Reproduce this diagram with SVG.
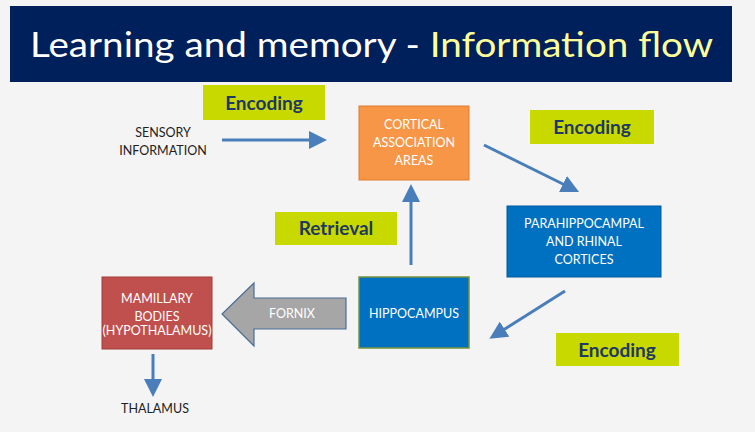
<svg xmlns="http://www.w3.org/2000/svg" width="755" height="432" viewBox="0 0 755 432">
<defs>
<style>
.t{font-family:Lato,"Open Sans",sans-serif}
.lab{fill:#c8d900}
.lt{font-family:Lato,sans-serif;font-weight:bold;font-size:19px;fill:#1f3864;text-anchor:middle}
.nt{font-family:Lato,sans-serif;font-size:12.5px;fill:#fff;text-anchor:middle}
.bt{font-family:Lato,sans-serif;font-size:12.5px;fill:#222;text-anchor:middle}
.c{stroke:#4a7ebb;stroke-width:3;fill:none;marker-end:url(#ah)}
</style>
<marker id="ah" markerWidth="6" markerHeight="6" refX="3" refY="3" orient="auto" markerUnits="strokeWidth" viewBox="0 0 6 6"><path d="M0,0L6,3L0,6z" fill="#4a7ebb"/></marker>
</defs>
<rect width="755" height="432" fill="#f4f4f4"/>
<g id="title">
<rect x="10" y="6" width="722" height="76" fill="#00205b"/>
<text x="30" y="57" class="t" font-size="35" fill="#fff" textLength="683" lengthAdjust="spacingAndGlyphs"><tspan>Learning and memory - </tspan><tspan fill="#ffff99">Information flow</tspan></text>
</g>
<g id="labels">
<rect class="lab" x="203" y="85" width="122" height="35"/><text class="lt" x="264" y="110">Encoding</text>
<rect class="lab" x="530" y="110" width="124" height="34"/><text class="lt" x="592" y="134">Encoding</text>
<rect class="lab" x="556" y="333" width="123" height="33"/><text class="lt" x="617" y="357">Encoding</text>
<rect class="lab" x="275" y="212" width="122" height="33"/><text class="lt" x="336" y="235">Retrieval</text>
</g>
<g id="sensory"><text class="bt" x="163" y="137">SENSORY</text><text class="bt" x="163" y="155">INFORMATION</text></g>
<g id="cortical"><rect x="359" y="106" width="110" height="74" fill="#f79646" stroke="#e07b2e"/>
<text class="nt" x="414" y="129">CORTICAL</text><text class="nt" x="414" y="147">ASSOCIATION</text><text class="nt" x="414" y="165">AREAS</text></g>
<g id="parahippocampal"><rect x="507" y="206" width="154" height="71" fill="#0070c0" stroke="#005a9e"/>
<text class="nt" x="584" y="228">PARAHIPPOCAMPAL</text><text class="nt" x="584" y="246">AND RHINAL</text><text class="nt" x="584" y="264">CORTICES</text></g>
<g id="hippocampus"><rect x="359" y="277" width="110" height="71" fill="#0070c0" stroke="#77933c" stroke-width="1.5"/>
<text class="nt" x="414" y="318">HIPPOCAMPUS</text></g>
<g id="mamillary"><rect x="102" y="277" width="110" height="72" fill="#c0504d" stroke="#a03a37"/>
<text class="nt" x="157" y="303">MAMILLARY</text><text class="nt" x="157" y="321">BODIES</text><text class="nt" x="157" y="335" font-size="8.5">(HYPOTHALAMUS)</text></g>
<g id="thalamus"><text class="bt" x="155" y="413">THALAMUS</text></g>
<g id="connectors">
<line class="c" x1="222" y1="140" x2="318" y2="140"/>
<line class="c" x1="484" y1="145" x2="571" y2="188"/>
<line class="c" x1="565" y1="291" x2="497" y2="334"/>
<line class="c" x1="411" y1="265" x2="411" y2="193"/>
<line class="c" x1="153" y1="354" x2="153" y2="388"/>
<path d="M346,298H254V283L222,314L254,346V329H346Z" fill="#a6a6a6" stroke="#4a6d96" stroke-width="1.2"/>
<text class="nt" x="292" y="318" font-size="13">FORNIX</text>
</g>
</svg>
